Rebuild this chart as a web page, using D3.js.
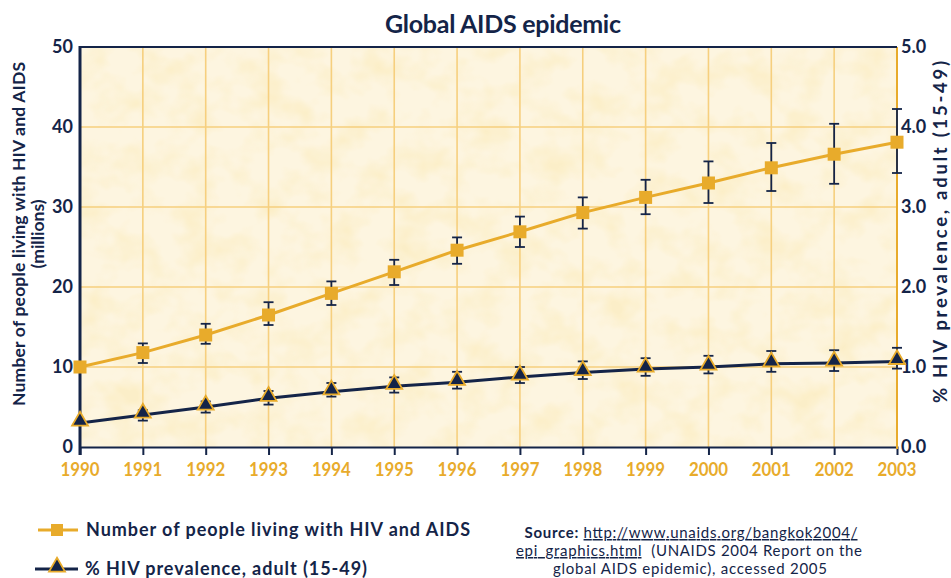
<!DOCTYPE html>
<html>
<head>
<meta charset="utf-8">
<script src="https://cdn.jsdelivr.net/npm/d3@7"></script>
<style>
  html, body { margin: 0; padding: 0; background: #ffffff; }
  svg { display: block; }
  text { font-family: Lato, "Open Sans", sans-serif; }
</style>
</head>
<body>
<svg id="chart" width="951" height="578"></svg>
<script>
// ---- data ----
const years = [1990, 1991, 1992, 1993, 1994, 1995, 1996, 1997, 1998, 1999, 2000, 2001, 2002, 2003];
const people = [10.0, 11.8, 14.0, 16.5, 19.2, 21.9, 24.6, 26.9, 29.3, 31.2, 33.0, 34.9, 36.6, 38.1];
const peopleLow = [null, 10.5, 12.9, 15.25, 17.75, 20.25, 22.9, 25.0, 27.3, 29.1, 30.5, 32.0, 32.9, 34.25];
const peopleHigh = [null, 12.95, 15.4, 18.1, 20.7, 23.4, 26.2, 28.8, 31.2, 33.4, 35.7, 38.0, 40.4, 42.25];
const prevalence = [0.30, 0.40, 0.50, 0.61, 0.69, 0.76, 0.81, 0.875, 0.93, 0.975, 1.00, 1.04, 1.05, 1.07];
const prevLow = [null, 0.33, 0.43, 0.53, 0.63, 0.68, 0.73, 0.80, 0.85, 0.89, 0.92, 0.94, 0.95, 0.98];
const prevHigh = [null, 0.46, 0.57, 0.70, 0.80, 0.87, 0.94, 1.00, 1.07, 1.11, 1.14, 1.20, 1.21, 1.24];
const leftTicks = [0, 10, 20, 30, 40, 50];
const rightTicks = [0, 1, 2, 3, 4, 5];
const titleText = "Global AIDS epidemic";
const leftTitle = ["Number of people living with HIV and AIDS", "(millions)"];
const rightTitle = "% HIV prevalence, adult (15-49)";
const legendLabels = ["Number of people living with HIV and AIDS", "% HIV prevalence, adult (15-49)"];

// ---- styles ----
const NAVY = "#142448";
const ORANGE = "#e8ab2b";
const GRID = "#f6cf7e";

const svg = d3.select("#chart");
const L = 80, R = 897, T = 47, B = 447;

const x = d3.scaleLinear().domain([1990, 2003]).range([L, R]);
const yL = d3.scaleLinear().domain([0, 50]).range([B, T]);
const yR = d3.scaleLinear().domain([0, 5]).range([B, T]);

// background texture
const defs = svg.append("defs");
const f = defs.append("filter").attr("id", "mottle").attr("x", 0).attr("y", 0).attr("width", 1).attr("height", 1);
f.append("feTurbulence").attr("type", "fractalNoise").attr("baseFrequency", "0.028 0.034").attr("numOctaves", 3).attr("seed", 7);
f.append("feColorMatrix").attr("type", "matrix")
  .attr("values", "0 0 0 0 0.97  0 0 0 0 0.86  0 0 0 0 0.58  2.4 0 0 0 -0.98");
f.append("feComposite").attr("in2", "SourceGraphic").attr("operator", "in");

svg.append("rect").attr("x", L).attr("y", T).attr("width", R - L).attr("height", B - T).attr("fill", "#fdf5e0");
svg.append("rect").attr("x", L).attr("y", T).attr("width", R - L).attr("height", B - T).attr("fill", "#fff").attr("filter", "url(#mottle)");

// gridlines
const g = svg.append("g");
g.selectAll("line.v").data(years.slice(1, -1)).join("line")
  .attr("x1", d => x(d)).attr("x2", d => x(d)).attr("y1", T).attr("y2", B)
  .attr("stroke", GRID).attr("stroke-width", 1.6);
g.selectAll("line.h").data(leftTicks.slice(1, -1)).join("line")
  .attr("x1", L).attr("x2", R).attr("y1", d => yL(d)).attr("y2", d => yL(d))
  .attr("stroke", GRID).attr("stroke-width", 1.6);

// axes
const bottomAxis = d3.axisBottom(x).tickValues(years.slice(1, -1)).tickSize(8).tickFormat("");
const gb = svg.append("g").attr("transform", `translate(0,${B})`).call(bottomAxis);
gb.select(".domain").attr("stroke", NAVY).attr("stroke-width", 2);
gb.selectAll(".tick line").attr("stroke", NAVY).attr("stroke-width", 2);

svg.append("line").attr("x1", R).attr("x2", R).attr("y1", T).attr("y2", B + 2).attr("stroke", ORANGE).attr("stroke-width", 2);
svg.append("line").attr("x1", L - 1).attr("x2", R).attr("y1", T).attr("y2", T).attr("stroke", NAVY).attr("stroke-width", 2);
svg.append("line").attr("x1", L).attr("x2", L).attr("y1", T - 1).attr("y2", B + 8).attr("stroke", NAVY).attr("stroke-width", 3);

// tick labels
svg.selectAll("text.xl").data(years).join("text")
  .attr("x", d => x(d)).attr("y", 476).attr("text-anchor", "middle")
  .attr("fill", ORANGE).attr("font-weight", "bold").attr("font-size", 18)
  .attr("textLength", 39).attr("lengthAdjust", "spacingAndGlyphs")
  .text(d => d);
svg.selectAll("text.yl").data(leftTicks).join("text")
  .attr("x", 73).attr("y", d => yL(d) + 6).attr("text-anchor", "end")
  .attr("fill", NAVY).attr("font-weight", "bold").attr("font-size", 18)
  .text(d => d);
svg.selectAll("text.yr").data(rightTicks).join("text")
  .attr("x", 901).attr("y", d => yR(d) + 6).attr("text-anchor", "start")
  .attr("fill", NAVY).attr("font-weight", "bold").attr("font-size", 18)
  .text(d => d.toFixed(1));

// titles
svg.append("text").attr("x", 503).attr("y", 33).attr("text-anchor", "middle")
  .attr("fill", NAVY).attr("font-weight", "bold").attr("font-size", 25)
  .attr("textLength", 236).attr("lengthAdjust", "spacing").text(titleText);
svg.append("text").attr("transform", "translate(25,234) rotate(-90)").attr("text-anchor", "middle")
  .attr("fill", NAVY).attr("font-weight", "bold").attr("font-size", 17.5)
  .attr("textLength", 344).attr("lengthAdjust", "spacing").text(leftTitle[0]);
svg.append("text").attr("transform", "translate(44,234) rotate(-90)").attr("text-anchor", "middle")
  .attr("fill", NAVY).attr("font-weight", "bold").attr("font-size", 17.5).text(leftTitle[1]);
svg.append("text").attr("transform", "translate(947,232) rotate(-90)").attr("text-anchor", "middle")
  .attr("fill", NAVY).attr("font-weight", "bold").attr("font-size", 18.5)
  .attr("textLength", 342).attr("lengthAdjust", "spacing").text(rightTitle);

// series
const idx = d3.range(years.length);
const lineL = d3.line().x(i => x(years[i])).y(i => yL(people[i]));
const lineR = d3.line().x(i => x(years[i])).y(i => yR(prevalence[i]));

function errorBars(lows, highs, ys) {
  const eg = svg.append("g").attr("stroke", NAVY).attr("stroke-width", 1.8);
  idx.filter(i => lows[i] != null).forEach(i => {
    const cx = x(years[i]);
    eg.append("line").attr("x1", cx).attr("x2", cx).attr("y1", ys(lows[i])).attr("y2", ys(highs[i]));
    eg.append("line").attr("x1", cx - 5).attr("x2", cx + 5).attr("y1", ys(lows[i])).attr("y2", ys(lows[i]));
    eg.append("line").attr("x1", cx - 5).attr("x2", cx + 5).attr("y1", ys(highs[i])).attr("y2", ys(highs[i]));
  });
}

errorBars(peopleLow, peopleHigh, yL);
svg.append("path").attr("d", lineL(idx)).attr("fill", "none").attr("stroke", ORANGE).attr("stroke-width", 3);
svg.selectAll("rect.sq").data(idx).join("rect")
  .attr("x", i => x(years[i]) - 6.5).attr("y", i => yL(people[i]) - 6.5)
  .attr("width", 13).attr("height", 13).attr("fill", ORANGE);

errorBars(prevLow, prevHigh, yR);
svg.append("path").attr("d", lineR(idx)).attr("fill", "none").attr("stroke", NAVY).attr("stroke-width", 3);
const tri = d3.symbol().type(d3.symbolTriangle).size(110);
svg.selectAll("path.tri").data(idx).join("path")
  .attr("transform", i => `translate(${x(years[i])},${yR(prevalence[i]) - 2})`)
  .attr("d", tri).attr("fill", NAVY).attr("stroke", ORANGE).attr("stroke-width", 1.8);

// legend
const lg = svg.append("g");
lg.append("line").attr("x1", 38).attr("x2", 78).attr("y1", 530).attr("y2", 530).attr("stroke", ORANGE).attr("stroke-width", 3);
lg.append("rect").attr("x", 51).attr("y", 524).attr("width", 12).attr("height", 12).attr("fill", ORANGE);
lg.append("text").attr("x", 86).attr("y", 536).attr("fill", NAVY).attr("font-weight", "bold").attr("font-size", 18)
  .attr("textLength", 384).attr("lengthAdjust", "spacing").text(legendLabels[0]);
lg.append("line").attr("x1", 35).attr("x2", 78).attr("y1", 569).attr("y2", 569).attr("stroke", NAVY).attr("stroke-width", 3);
lg.append("path").attr("transform", "translate(57,567)").attr("d", tri).attr("fill", NAVY).attr("stroke", ORANGE).attr("stroke-width", 1.8);
lg.append("text").attr("x", 85).attr("y", 575).attr("fill", NAVY).attr("font-weight", "bold").attr("font-size", 18)
  .attr("textLength", 282).attr("lengthAdjust", "spacing").text(legendLabels[1]);

// source
const src = svg.append("g").attr("fill", NAVY).attr("font-size", 15);
const t1 = src.append("text").attr("x", 691).attr("y", 538).attr("text-anchor", "middle")
  .attr("textLength", 333).attr("lengthAdjust", "spacing");
t1.append("tspan").attr("font-weight", "bold").text("Source: ");
t1.append("tspan").attr("text-decoration", "underline").text("http://www.unaids.org/bangkok2004/");
const t2 = src.append("text").attr("x", 689).attr("y", 556).attr("text-anchor", "middle")
  .attr("textLength", 346).attr("lengthAdjust", "spacing");
t2.append("tspan").attr("text-decoration", "underline").text("epi_graphics.html");
t2.append("tspan").text("\u00a0 (UNAIDS 2004 Report on the");
src.append("text").attr("x", 690).attr("y", 574).attr("text-anchor", "middle")
  .attr("textLength", 274).attr("lengthAdjust", "spacing").text("global AIDS epidemic), accessed 2005");
</script>
</body>
</html>
